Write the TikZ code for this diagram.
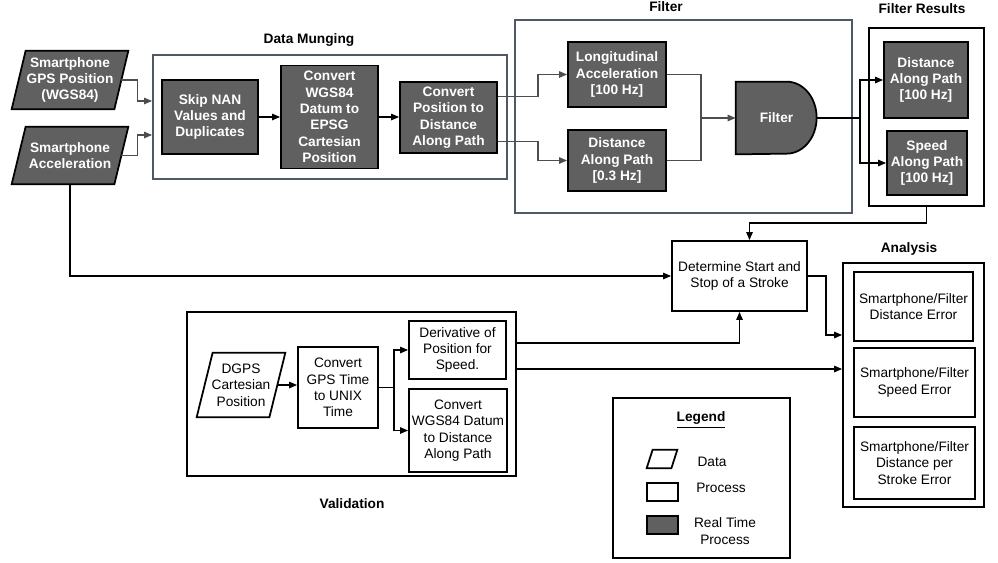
\documentclass[tikz,border=0pt]{standalone}
\usepackage{fontspec}
\setmainfont{Liberation Sans}
\usetikzlibrary{arrows.meta, calc}
\definecolor{rtgray}{HTML}{606060}
\definecolor{framegray}{HTML}{4E5965}
\definecolor{wiregray}{HTML}{4D4D4D}
\pgfdeclarelayer{bg}
\pgfsetlayers{bg,main}
\newcommand{\dfont}{\fontsize{7.8}{9.3}\selectfont}
\newcommand{\slantbox}[3]{\begin{pgfonlayer}{bg}
\draw[#3] ($(#1.north west)+(#2,0)$) -- ($(#1.north east)+(#2,0)$) -- ($(#1.south east)-(#2,0)$) -- ($(#1.south west)-(#2,0)$) -- cycle;
\end{pgfonlayer}}
\tikzset{rtproc/.style={draw, line width=1pt, fill=rtgray, text=white, font=\dfont\bfseries, align=center, inner sep=0pt},
  proc/.style={draw, line width=1pt, fill=white, font=\dfont, align=center, inner sep=0pt},
  rtdata/.style={text=white, font=\dfont\bfseries, align=center, inner sep=0pt},
  pdata/.style={font=\dfont, align=center, inner sep=0pt},
  slantrt/.style={draw, line width=1pt, fill=rtgray},
  slantp/.style={draw, line width=1pt, fill=white},
  sz/.style 2 args={minimum width=#1*0.02cm, minimum height=#2*0.02cm},
  grp/.style={draw=framegray, line width=1pt},
  res/.style={draw, line width=1pt},
  ttl/.style={font=\dfont\bfseries},
  lbl/.style={font=\dfont, align=center},
  wire/.style={draw=wiregray, line width=0.8pt, -{Triangle[length=4.5pt,width=3.6pt]}},
  bwire/.style={draw=black, line width=0.8pt, -{Triangle[length=4.5pt,width=3.6pt]}}}

\begin{document}
\begin{tikzpicture}[x=0.02cm, y=-0.02cm]
\useasboundingbox (0,0) rectangle (998,562);
% groups
\node[grp, sz={354}{124}] (munge) at (330,117) {};
\node[ttl] (mungettl) at (309,40) {Data Munging};
\node[grp, sz={337}{193}] (filt) at (683.5,116.5) {};
\node[ttl] (filtttl) at (666,7) {Filter};
\node[res, sz={115}{178}] (results) at (926.5,117) {};
\node[ttl] (resultsttl) at (922,9) {Filter Results};
\node[res, sz={141}{244}] (analysis) at (913.5,385) {};
\node[ttl] (analysisttl) at (909,249) {Analysis};
\node[res, sz={329}{164}] (valid) at (351.5,394) {};
\node[ttl] (validttl) at (352,504) {Validation};
\node[res, sz={177}{160}] (legend) at (701.5,478) {};
\node[ttl] (legendttl) at (701,420) {\underline{Legend}};
% inputs
\node[rtdata, sz={102}{58}] (gps) at (70,80) {Smartphone\\GPS Position\\(WGS84)};
\node[rtdata, sz={102}{57}] (accel) at (70,155.5) {Smartphone\\Acceleration};
\node[pdata, sz={72}{64}] (dgps) at (241,385) {DGPS\\Cartesian\\Position};
\slantbox{gps}{7}{slantrt}
\slantbox{accel}{7}{slantrt}
\slantbox{dgps}{8}{slantp}
% real time
\node[rtproc, sz={96}{74}] (skip) at (210,117) {Skip NAN\\Values and\\Duplicates};
\node[rtproc, sz={97}{103}] (epsg) at (329.5,117) {Convert\\WGS84\\Datum to\\EPSG\\Cartesian\\Position};
\node[rtproc, sz={97}{71}] (dist) at (448.5,117.5) {Convert\\Position to\\Distance\\Along Path};
\node[rtproc, sz={98}{65}] (lacc) at (617,74.5) {Longitudinal\\Acceleration\\{[100 Hz]}};
\node[rtproc, sz={98}{61}] (dpath) at (617,160.5) {Distance\\Along Path\\{[0.3 Hz]}};
\node[rtdata, sz={81}{72}] (flt) at (776.5,118) {Filter};
\begin{pgfonlayer}{bg}
\draw[slantrt] (flt.north west) -- ++(51,0) arc[start angle=90, end angle=-90, x radius=0.6cm, y radius=0.72cm] -- (flt.south west) -- cycle;
\end{pgfonlayer}
\node[rtproc, sz={84}{76}] (rdist) at (926,80) {Distance\\Along Path\\{[100 Hz]}};
\node[rtproc, sz={80}{64}] (rspeed) at (927,163) {Speed\\Along Path\\{[100 Hz]}};
% offline
\node[proc, sz={135}{70}] (stroke) at (739.5,276) {Determine Start and\\Stop of a Stroke};
\node[proc, sz={119}{69}] (aerrdist) at (913.5,306.5) {Smartphone/Filter\\Distance Error};
\node[proc, sz={121}{69}] (aerrspeed) at (914.5,382.5) {Smartphone/Filter\\Speed Error};
\node[proc, sz={121}{72}] (aerrstroke) at (914.5,463) {Smartphone/Filter\\Distance per\\Stroke Error};
\node[proc, sz={80}{81}] (gpst) at (338,387.5) {Convert\\GPS Time\\to UNIX\\Time};
\node[proc, sz={97}{58}] (deriv) at (457.5,350) {Derivative of\\Position for\\Speed.};
\node[proc, sz={98}{83}] (wgsd) at (458,430.5) {Convert\\WGS84 Datum\\to Distance\\Along Path};
% legend
\node[pdata, sz={24}{18}] (ldata) at (662,459) {};
\slantbox{ldata}{3}{slantp}
\node[proc, sz={31}{18}] (lproc) at (662.5,492) {};
\node[rtproc, sz={31}{18}] (lrt) at (662.5,525) {};
\node[lbl] (ldatatxt) at (712,462) {Data};
\node[lbl] (lproctxt) at (721,488) {Process};
\node[lbl] (lrttxt) at (725,531) {Real Time\\Process};
% connectors
\draw[wire] (gps.east) -- ++(16,0) |- ($(munge.west)+(0,-16)$);
\draw[wire] (accel.east) -- ++(16,0) |- ($(munge.west)+(0,18)$);
\draw[bwire] (skip.east) -- (epsg.west |- skip.east);
\draw[bwire] (epsg.east) -- (dist.west |- epsg.east);
\draw[wire] ($(dist.east)+(0,-21)$) -- ++(40,0) |- (lacc.west);
\draw[wire] ($(dist.east)+(0,24)$) -- ++(40,0) |- (dpath.west);
\coordinate (mrg) at (701,118);
\draw[wire,-] (lacc.east) -| (mrg) |- (dpath.east);
\draw[wire] (mrg) -- (flt.west);
\coordinate (spl) at (860,118);
\draw[bwire,-] (flt.east) -- (spl);
\draw[bwire] (spl) |- (rdist.west);
\draw[bwire] (spl) |- (rspeed.west);
\draw[bwire] (results.south) -- ++(0,16) -| ($(stroke.north)+(10,0)$);
\draw[bwire] (accel.south) |- (stroke.west);
\draw[bwire] (stroke.east) -- ++(18,0) |- ($(analysis.west)+(0,-50)$);
\draw[bwire] ($(valid.east)+(0,-51)$) -| (stroke.south);
\draw[bwire] ($(valid.east)+(0,-25)$) -- ($(analysis.west)+(0,-16)$);
\draw[bwire] (dgps.east) -- (gpst.west |- dgps.east);
\coordinate (vsplit) at ($(gpst.east)+(15,0)$);
\draw[bwire,-] (gpst.east) -- (vsplit);
\draw[bwire] (vsplit) |- (deriv.west);
\draw[bwire] (vsplit) |- (wgsd.west);
\end{tikzpicture}
\end{document}
